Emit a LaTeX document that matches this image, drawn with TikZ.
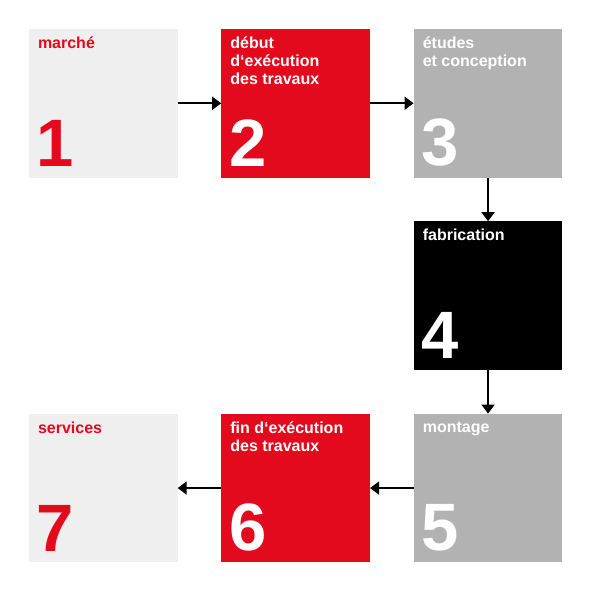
\documentclass[tikz,border=0pt]{standalone}
\usepackage{fontspec}
\setmainfont{Liberation Sans}
\usetikzlibrary{arrows.meta,positioning}
\definecolor{stRed}{HTML}{E20A1C}
\definecolor{stLight}{HTML}{EFEFEF}
\definecolor{stGrey}{HTML}{B2B2B2}
\tikzset{
  >=Triangle,
  every node/.append style={font=\bfseries},
}
\begin{document}
\begin{tikzpicture}[
  node distance=43.5pt and 43.5pt,
  stage/.style  ={draw=none, minimum width=148.5pt, minimum height=148.5pt, inner sep=0pt},
  cLight/.style ={stage, fill=stLight},
  cRed/.style   ={stage, fill=stRed},
  cGrey/.style  ={stage, fill=stGrey},
  cBlack/.style ={stage, fill=black},
  label/.style  ={anchor=north west, inner sep=0pt, align=left,
                  font=\fontsize{16}{18}\selectfont\bfseries},
  digit/.style  ={anchor=south west, inner sep=0pt,
                  font=\fontsize{67}{67}\selectfont\bfseries},
  flow/.style   ={-{Triangle[length=9pt,width=13pt]}, line width=1.7pt}
]
\useasboundingbox (0,0) rectangle (590pt,-590pt);

% Stages, first row left to right
\node[cLight] (s1) at (103.25pt,-103.25pt) {};
\node[cRed]   (s2) [right=of s1] {};
\node[cGrey]  (s3) [right=of s2] {};
% Column down
\node[cBlack] (s4) [below=of s3] {};
\node[cGrey]  (s5) [below=of s4] {};
% Bottom row right to left
\node[cRed]   (s6) [left=of s5] {};
\node[cLight] (s7) [left=of s6] {};

% Labels
\node[label, text=stRed] (t1) at ([xshift=9pt,yshift=-8pt]s1.north west) {marché};
\node[label, text=white] (t2) at ([xshift=9pt,yshift=-8pt]s2.north west) {début\\d‘exécution\\des travaux};
\node[label, text=white] (t3) at ([xshift=9pt,yshift=-8pt]s3.north west) {études\\et conception};
\node[label, text=white] (t4) at ([xshift=9pt,yshift=-8pt]s4.north west) {fabrication};
\node[label, text=white] (t5) at ([xshift=9pt,yshift=-8pt]s5.north west) {montage};
\node[label, text=white] (t6) at ([xshift=9pt,yshift=-8pt]s6.north west) {fin d‘exécution\\des travaux};
\node[label, text=stRed] (t7) at ([xshift=9pt,yshift=-8pt]s7.north west) {services};

% Numbers
\node[digit, text=stRed] (n1) at ([xshift=8pt,yshift=11pt]s1.south west) {1};
\node[digit, text=white] (n2) at ([xshift=8pt,yshift=11pt]s2.south west) {2};
\node[digit, text=white] (n3) at ([xshift=8pt,yshift=11pt]s3.south west) {3};
\node[digit, text=white] (n4) at ([xshift=8pt,yshift=11pt]s4.south west) {4};
\node[digit, text=white] (n5) at ([xshift=8pt,yshift=11pt]s5.south west) {5};
\node[digit, text=white] (n6) at ([xshift=8pt,yshift=11pt]s6.south west) {6};
\node[digit, text=stRed] (n7) at ([xshift=8pt,yshift=11pt]s7.south west) {7};

% Flow between stages
\draw[flow] (s1.east) -- (s2.west);
\draw[flow] (s2.east) -- (s3.west);
\draw[flow] (s3.south) -- (s4.north);
\draw[flow] (s4.south) -- (s5.north);
\draw[flow] (s5.west) -- (s6.east);
\draw[flow] (s6.west) -- (s7.east);

\end{tikzpicture}
\end{document}
